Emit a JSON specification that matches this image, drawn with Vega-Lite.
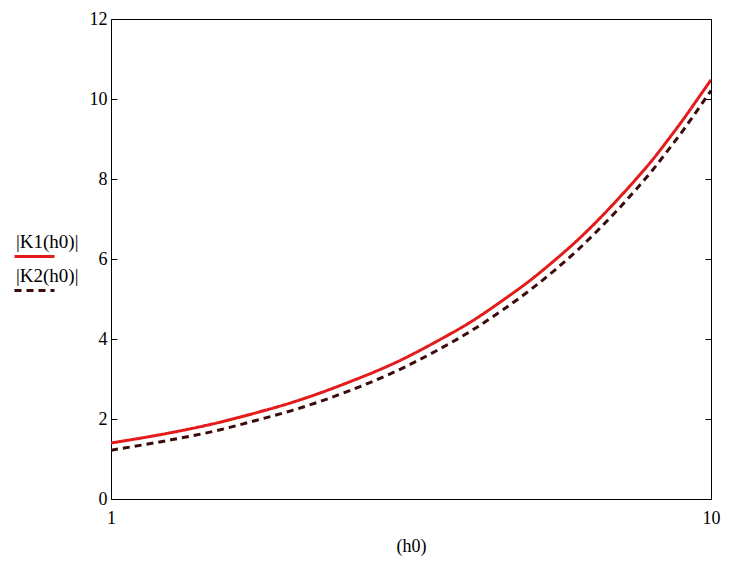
{
  "$schema": "https://vega.github.io/schema/vega-lite/v6.json",
  "width": 600,
  "height": 480,
  "autosize": {"type": "none"},
  "padding": {"left": 111, "top": 19, "right": 40, "bottom": 70},
  "background": "white",
  "config": {
    "view": {"stroke": "black", "strokeWidth": 1},
    "font": "Times New Roman",
    "axis": {"grid": false, "domainColor": "black", "tickColor": "black", "labelColor": "black", "titleColor": "black", "labelFont": "Times New Roman", "titleFont": "Times New Roman", "labelFontSize": 18, "titleFontSize": 18, "titleFontWeight": "normal"}
  },
  "data": {"values": [
    {"h": 1, "K1": 1.40, "K2": 1.22},
    {"h": 1.25, "K1": 1.65, "K2": 1.47},
    {"h": 1.5, "K1": 1.90, "K2": 1.71},
    {"h": 1.75, "K1": 2.16, "K2": 1.97},
    {"h": 2, "K1": 2.41, "K2": 2.21},
    {"h": 2.5, "K1": 2.93, "K2": 2.71},
    {"h": 3, "K1": 3.43, "K2": 3.21},
    {"h": 3.5, "K1": 3.95, "K2": 3.72},
    {"h": 4, "K1": 4.45, "K2": 4.22},
    {"h": 4.5, "K1": 4.97, "K2": 4.73},
    {"h": 5, "K1": 5.47, "K2": 5.23},
    {"h": 5.5, "K1": 5.98, "K2": 5.73},
    {"h": 6, "K1": 6.48, "K2": 6.23},
    {"h": 6.5, "K1": 6.99, "K2": 6.74},
    {"h": 7, "K1": 7.50, "K2": 7.24},
    {"h": 7.5, "K1": 8.00, "K2": 7.74},
    {"h": 8, "K1": 8.49, "K2": 8.23},
    {"h": 8.5, "K1": 9.00, "K2": 8.74},
    {"h": 9, "K1": 9.50, "K2": 9.23},
    {"h": 9.5, "K1": 10.00, "K2": 9.73},
    {"h": 10, "K1": 10.48, "K2": 10.21}
  ]},
  "transform": [
    {"fold": ["K1", "K2"], "as": ["series", "value"]},
    {"lookup": "series", "from": {"data": {"values": [{"series": "K1", "name": "|K1(h0)|"}, {"series": "K2", "name": "|K2(h0)|"}]}, "key": "series", "fields": ["name"]}}
  ],
  "layer": [
    {
      "mark": {"type": "line", "strokeWidth": 3, "clip": true, "interpolate": "monotone"},
      "encoding": {
        "x": {"field": "h", "type": "quantitative", "scale": {"type": "log", "domain": [1, 10], "nice": false}, "axis": {"values": [1, 10], "ticks": false, "title": "(h0)", "labelPadding": 10, "titlePadding": 10, "format": "d", "labelFlush": false}},
        "y": {"field": "value", "type": "quantitative", "scale": {"domain": [0, 12], "nice": false}, "axis": {"values": [0, 2, 4, 6, 8, 10, 12], "tickSize": -6, "labelPadding": 10, "title": null}},
        "color": {"field": "name", "type": "nominal", "scale": {"domain": ["|K1(h0)|", "|K2(h0)|"], "range": ["#e31b1b", "#3b0b0b"]}, "legend": {"title": null, "orient": "none", "legendX": -98, "legendY": 216, "symbolType": "stroke", "symbolSize": 1600, "symbolStrokeWidth": 3, "labelFont": "Times New Roman", "labelFontSize": 19, "labelColor": "black", "rowPadding": 3, "labelLimit": 200, "encode": {"labels": {"update": {"dx": {"value": -44}, "dy": {"value": -15}}}}}},
        "strokeDash": {"field": "name", "type": "nominal", "scale": {"domain": ["|K1(h0)|", "|K2(h0)|"], "range": [[1, 0], [7, 5]]}, "legend": null}
      }
    },
    {
      "mark": {"type": "line", "opacity": 0},
      "encoding": {
        "x": {"field": "h", "type": "quantitative"},
        "y": {"field": "value", "type": "quantitative", "axis": {"orient": "right", "values": [0, 2, 4, 6, 8, 10, 12], "tickSize": -6, "labels": false, "title": null}}
      }
    }
  ],
  "resolve": {"axis": {"y": "independent"}}
}
